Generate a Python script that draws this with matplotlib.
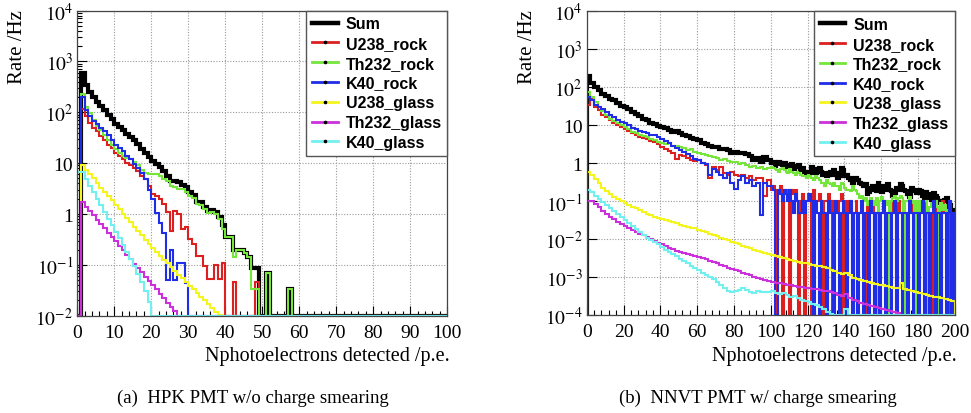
import numpy as np
import matplotlib
matplotlib.use("Agg")
import matplotlib.pyplot as plt
from matplotlib.lines import Line2D
from matplotlib.ticker import FixedLocator, MultipleLocator, LogLocator, NullFormatter

plt.rcParams['font.family'] = ['Liberation Serif', 'DejaVu Serif']
plt.rcParams['mathtext.fontset'] = 'stix'

names = ["Sum", "U238_rock", "Th232_rock", "K40_rock", "U238_glass", "Th232_glass", "K40_glass"]
colors = ["#000000", "#dc2020", "#74e63a", "#1f2de6", "#f4f41e", "#cc30dc", "#72f0f0"]


def pad(vals, n):
    # empty bins after the last filled one
    return list(vals) + [0] * (n - len(vals))


# ---- HPK PMT, 1 p.e. bins from 0 to 100 ----
hpk_edges = np.arange(0, 101, 1)
hpk_sum = pad([0, 600, 345, 255, 200, 160, 135, 110, 90, 74,
               60, 52, 44, 38, 33, 28, 24, 19, 16, 13,
               11, 9.6, 8.4, 7, 5.7, 4.4, 4.5, 4.2, 3.8, 3.4,
               2.7, 2.4, 1.75, 1.7, 1.4, 1.15, 1.2, 1.1, 0.86, 0.62,
               0.36, 0.36, 0.2, 0.2, 0.2, 0.17, 0.14, 0.086, 0.086, 0,
               0, 0.069, 0, 0, 0, 0, 0, 0.033], 100)
hpk_u238_rock = pad([0, 117, 85, 62, 50, 42, 34, 28, 23, 20,
                     16, 14, 12, 10, 9, 8, 7, 5.5, 4.9, 3.6,
                     2.5, 2.3, 2.0, 1.6, 1.1, 0.47, 1.15, 1.0, 0.5, 0.55,
                     0.32, 0.26, 0.15, 0.15, 0.095, 0.052, 0.052, 0.1, 0.052, 0.11,
                     0, 0, 0.047, 0, 0, 0, 0, 0, 0.047], 100)
hpk_th232_rock = pad([0, 230, 130, 95, 70, 55, 45, 36, 29, 23,
                      19, 16, 14, 12.5, 12, 10.5, 9, 7.5, 6.5, 6.2,
                      6.2, 6.0, 5.5, 4.9, 4.4, 3.6, 3.4, 3.1, 3.1, 2.7,
                      2.3, 2.1, 1.55, 1.5, 1.25, 1.07, 1.1, 1.0, 0.8, 0.5,
                      0.35, 0.35, 0.14, 0.2, 0.2, 0.17, 0.14, 0.033, 0.033, 0,
                      0, 0.069, 0, 0, 0, 0, 0, 0.033], 100)
hpk_k40_rock = pad([0, 200, 110, 85, 68, 58, 49, 42, 35, 28,
                    23, 20, 17, 14, 12, 9.5, 8, 6.3, 4.9, 3.0,
                    1.95, 1.07, 0.68, 0.43, 0.05, 0.2, 0.05, 0.11, 0.11, 0.043], 100)
hpk_u238_glass = pad([0, 9.0, 7.4, 6.1, 5.0, 4.1, 3.3, 2.75, 2.25, 1.85,
                      1.5, 1.25, 1.02, 0.84, 0.69, 0.56, 0.46, 0.38, 0.31, 0.255,
                      0.21, 0.178, 0.15, 0.127, 0.107, 0.09, 0.076, 0.064, 0.054, 0.046,
                      0.039, 0.033, 0.028, 0.0235, 0.02, 0.0168, 0.0142, 0.012, 0.0101], 100)
hpk_th232_glass = pad([0, 1.7, 1.4, 1.15, 0.94, 0.77, 0.63, 0.52, 0.42, 0.35,
                       0.29, 0.235, 0.193, 0.158, 0.13, 0.106, 0.087, 0.071, 0.058, 0.048,
                       0.04, 0.033, 0.027, 0.022, 0.018, 0.0148, 0.0122, 0.01], 100)
hpk_k40_glass = pad([6.6, 6.6, 4.9, 3.6, 2.7, 2.0, 1.5, 1.1, 0.8, 0.6,
                     0.45, 0.33, 0.25, 0.18, 0.13, 0.095, 0.065, 0.045, 0.03, 0.019], 100)

# ---- NNVT PMT ----
# smooth glass spectra: 2 p.e. bins over the whole range
nnvt_edges = np.arange(0, 201, 2)
# rock spectra and their sum: 2 p.e. bins below 100, 1 p.e. bins above
nnvt_fine_edges = np.concatenate([np.arange(0, 100, 2), np.arange(100, 201, 1)])

nnvt_sum = [200, 130, 100, 82, 68, 60, 50, 45, 39, 33,
            30, 26, 22, 19.5, 17, 15, 13.5, 11.5, 10.8, 9.8,
            9.0, 8.5, 7.6, 6.8, 7.0, 6.3, 5.6, 5.2, 4.6, 4.4,
            4.0, 3.4, 3.2, 2.9, 2.7, 2.6, 2.4, 2.4, 2.2, 1.9,
            2.0, 1.8, 1.9, 1.7, 1.5, 1.2, 1.35, 1.1, 1.45, 1.2,
            # 1 p.e. bins from 100
            1.0, 1.1, 0.85, 0.95, 1.05, 1.0, 0.9, 1.0, 0.8, 0.85,
            0.9, 0.95, 0.7, 0.8, 0.85, 0.9, 0.65, 0.75, 0.6, 0.5,
            0.6, 0.55, 0.8, 0.7, 0.55, 0.65, 0.75, 0.6, 0.5, 0.55,
            0.45, 0.5, 0.6, 0.5, 0.65, 0.55, 0.4, 0.45, 0.75, 0.65,
            0.45, 0.5, 0.4, 0.35, 0.3, 0.4, 0.4, 0.35, 0.3, 0.28,
            0.25, 0.28, 0.15, 0.17, 0.22, 0.25, 0.2, 0.18, 0.3, 0.25,
            0.17, 0.2, 0.25, 0.28, 0.2, 0.18, 0.14, 0.16, 0.22, 0.2,
            0.28, 0.25, 0.2, 0.18, 0.15, 0.13, 0.22, 0.2, 0.18, 0.16,
            0.2, 0.18, 0.14, 0.12, 0.17, 0.15, 0.12, 0.11, 0.16, 0.14,
            0.12, 0.1, 0.09, 0.1, 0.11, 0.12, 0.07, 0.08, 0.06, 0.05]
nnvt_u238_rock = [35, 50, 30, 25, 19, 16, 14, 11.5, 10, 9,
                  7.8, 7.0, 6.2, 5.6, 5.0, 4.6, 4.2, 3.8, 3.6, 3.1,
                  2.7, 2.4, 2.1, 1.8, 1.3, 1.6, 1.55, 1.4, 1.2, 1.15,
                  1.2, 1.0, 0.9, 0.4, 0.8, 0.65, 0.8, 0.55, 0.5, 0.6,
                  0.5, 0.45, 0.5, 0.4, 0.45, 0.35, 0.4, 0.4, 0.14, 0.35,
                  0.2, 0.25, 0.2, 0, 0.2, 0.25, 0, 0.2, 0.15, 0.2,
                  0, 0.2, 0.15, 0.2, 0.1, 0, 0.1, 0.15, 0, 0.1,
                  0.15, 0.1, 0, 0.2, 0.1, 0.1, 0.15, 0.1, 0, 0.1,
                  0.1, 0.15, 0.1, 0, 0.1, 0.05, 0.05, 0.1, 0.15, 0,
                  0.1, 0.05, 0.1, 0.1, 0, 0.05, 0.1, 0.05, 0.05, 0.1,
                  0.05, 0, 0.1, 0.05, 0.05, 0.1, 0, 0.05, 0.1, 0.05,
                  0.05, 0.1, 0.05, 0, 0.05, 0.1, 0.05, 0.05, 0, 0.1,
                  0.05, 0.05, 0.1, 0, 0.05, 0.05, 0.1, 0.05, 0, 0.05,
                  0.1, 0.05, 0.05, 0, 0.1, 0.05, 0.05, 0.05, 0, 0.1,
                  0.05, 0.05, 0, 0.1, 0.05, 0.05, 0.05, 0, 0.05, 0.05]
nnvt_th232_rock = [75, 55, 40, 30, 23, 19, 15, 13, 11.5, 10,
                   8.8, 7.8, 6.8, 6.2, 5.6, 5.3, 4.8, 4.2, 4.0, 3.7,
                   3.4, 3.1, 3.3, 2.9, 2.8, 2.6, 2.5, 2.2, 2.3, 1.95,
                   1.9, 1.7, 1.6, 1.55, 1.45, 1.4, 1.2, 1.3, 1.15, 1.05,
                   1.1, 0.95, 1.0, 0.9, 0.8, 0.85, 0.75, 0.8, 0.7, 0.75,
                   0.8, 0.75, 0.7, 0.65, 0.6, 0.7, 0.75, 0.65, 0.6, 0.55,
                   0.7, 0.6, 0.55, 0.5, 0.6, 0.55, 0.5, 0.45, 0.45, 0.4,
                   0.5, 0.45, 0.4, 0.35, 0.45, 0.4, 0.35, 0.3, 0.3, 0.25,
                   0.35, 0.3, 0.28, 0.25, 0.3, 0.25, 0.25, 0.2, 0.3, 0.28,
                   0.22, 0.2, 0.2, 0.18, 0.25, 0.2, 0.18, 0.15, 0.12, 0.14,
                   0.1, 0.12, 0.08, 0.1, 0.12, 0.1, 0.08, 0.12, 0, 0.1,
                   0.13, 0.1, 0.08, 0.1, 0, 0.1, 0.12, 0.14, 0.1, 0.12,
                   0.14, 0.12, 0, 0.1, 0.1, 0.13, 0.09, 0.1, 0, 0.1,
                   0, 0.1, 0.08, 0.1, 0.1, 0, 0.07, 0.09, 0.08, 0.1,
                   0.07, 0, 0.09, 0.06, 0.08, 0.05, 0.06, 0.05, 0.05, 0.05]
nnvt_k40_rock = [55, 45, 35, 30, 27, 22, 18, 16, 14, 12.5,
                 11.5, 10, 8.5, 8, 7, 6.6, 6.2, 5.5, 5.4, 4.8,
                 4.2, 3.9, 3.4, 2.8, 2.5, 2.2, 2.0, 1.7, 1.5, 1.3,
                 1.2, 1.0, 0.95, 0.5, 0.7, 0.58, 0.5, 0.4, 0.55, 0.3,
                 0.21, 0.35, 0.45, 0.3, 0.35, 0.25, 0.3, 0.042, 0.3, 0.25,
                 0.25, 0.2, 0, 0, 0.2, 0.15, 0.1, 0.2, 0.15, 0.1,
                 0.2, 0.1, 0.05, 0.15, 0.1, 0.05, 0.05, 0.1, 0.05, 0.1,
                 0.1, 0.15, 0.1, 0, 0.1, 0.05, 0, 0.1, 0.05, 0.05,
                 0, 0.1, 0.05, 0.05, 0, 0.1, 0.05, 0, 0.05, 0.1,
                 0.05, 0, 0.05, 0.1, 0, 0.05, 0.05, 0, 0.05, 0.1,
                 0, 0.05, 0.05, 0, 0.1, 0.05, 0, 0.05, 0.05, 0,
                 0.05, 0.1, 0, 0.05, 0.05, 0, 0.05, 0.1, 0, 0.05,
                 0.05, 0, 0.05, 0.05, 0, 0.1, 0.05, 0, 0.05, 0.05,
                 0, 0.05, 0.1, 0, 0.05, 0.05, 0, 0.05, 0.1, 0,
                 0.05, 0.05, 0, 0.05, 0.05, 0, 0.05, 0.1, 0, 0.05]
nnvt_u238_glass = [0.6, 0.5, 0.38, 0.3, 0.22, 0.18, 0.15, 0.13, 0.115, 0.1,
                   0.09, 0.08, 0.072, 0.065, 0.058, 0.052, 0.047, 0.043, 0.039, 0.036,
                   0.034, 0.032, 0.03, 0.028, 0.026, 0.024, 0.022, 0.021, 0.02, 0.019,
                   0.017, 0.016, 0.015, 0.014, 0.013, 0.012, 0.011, 0.0102, 0.0094, 0.0086,
                   0.0078, 0.0072, 0.0066, 0.0061, 0.0057, 0.0053, 0.005, 0.0047, 0.0044, 0.0041,
                   0.0038, 0.0036, 0.0034, 0.0032, 0.003, 0.0028, 0.0026, 0.0025, 0.0024, 0.0023,
                   0.0022, 0.0021, 0.002, 0.0019, 0.0018, 0.0017, 0.0015, 0.0014, 0.0013, 0.0012,
                   0.0013, 0.0011, 0.00095, 0.0009, 0.00085, 0.0008, 0.00075, 0.0007, 0.00066, 0.00062,
                   0.0006, 0.00057, 0.00055, 0.00052, 0.0005, 0.0007, 0.00047, 0.00045, 0.00042, 0.0004,
                   0.00038, 0.00036, 0.00034, 0.00032, 0.0003, 0.00029, 0.00028, 0.00027, 0.00025, 0.00024]
nnvt_th232_glass = [0.1, 0.1, 0.085, 0.068, 0.055, 0.046, 0.039, 0.033, 0.029, 0.025,
                    0.022, 0.019, 0.017, 0.015, 0.0135, 0.0125, 0.0112, 0.01, 0.009, 0.0081,
                    0.0073, 0.0066, 0.006, 0.0055, 0.005, 0.0047, 0.0044, 0.0041, 0.0038, 0.0036,
                    0.0033, 0.0031, 0.0029, 0.0027, 0.0025, 0.0023, 0.0021, 0.0019, 0.0017, 0.0016,
                    0.0015, 0.0014, 0.0013, 0.0012, 0.0011, 0.001, 0.00095, 0.0009, 0.00085, 0.0008,
                    0.00075, 0.00071, 0.00068, 0.00065, 0.00062, 0.0006, 0.00058, 0.00056, 0.00054, 0.00052,
                    0.0005, 0.00049, 0.00047, 0.00046, 0.00044, 0.00042, 0.0004, 0.00037, 0.00034, 0.00031,
                    0.00036, 0.00028, 0.00025, 0.00023, 0.00021, 0.00019, 0.00018, 0.00017, 0.00016, 0.00015,
                    0.00014, 0.000135, 0.00013, 0.00012, 0.00011, 0.0001, 0.000095, 0.00009, 0.000085, 0.00008,
                    0.000078, 0.000075, 0.000072, 0.00007, 0.000068, 0.000065, 0.000062, 0.00006, 0.000058, 0.000055]
nnvt_k40_glass = pad([0.2, 0.17, 0.14, 0.115, 0.095, 0.08, 0.066, 0.055, 0.046, 0.038,
                      0.031, 0.026, 0.022, 0.018, 0.015, 0.0128, 0.011, 0.0093, 0.0082, 0.0072,
                      0.0062, 0.0053, 0.0046, 0.004, 0.0035, 0.003, 0.0026, 0.0023, 0.002, 0.0017,
                      0.0015, 0.0013, 0.00115, 0.001, 0.00087, 0.00075, 0.00063, 0.00052, 0.00043, 0.0004,
                      0.00042, 0.00045, 0.0005, 0.00045, 0.0004, 0.00038, 0.00042, 0.0004, 0.00041, 0.0004,
                      0.00043, 0.00039, 0.00036, 0.00038, 0.00033, 0.0003, 0.00031, 0.00028, 0.00025, 0.00024,
                      0.00022, 0.0002, 0.00018, 0.00016, 0.00014, 0.00012, 0.000105, 0, 0, 0,
                      0.00014], 100)

hpk_series = [(hpk_edges, hpk_sum), (hpk_edges, hpk_u238_rock), (hpk_edges, hpk_th232_rock),
              (hpk_edges, hpk_k40_rock), (hpk_edges, hpk_u238_glass),
              (hpk_edges, hpk_th232_glass), (hpk_edges, hpk_k40_glass)]
nnvt_series = [(nnvt_fine_edges, nnvt_sum), (nnvt_fine_edges, nnvt_u238_rock),
               (nnvt_fine_edges, nnvt_th232_rock), (nnvt_fine_edges, nnvt_k40_rock),
               (nnvt_edges, nnvt_u238_glass), (nnvt_edges, nnvt_th232_glass),
               (nnvt_edges, nnvt_k40_glass)]

ylabels = {-4: r'$10^{-4}$', -3: r'$10^{-3}$', -2: r'$10^{-2}$', -1: r'$10^{-1}$',
           0: '1', 1: '10', 2: r'$10^{2}$', 3: r'$10^{3}$', 4: r'$10^{4}$'}


def draw_panel(ax, series, ymin, xmax, xmajor, xminor):
    for (edges, vals), c, name in zip(series, colors, names):
        v = np.maximum(np.asarray(vals, dtype=float), ymin)
        lw = 3.0 if name == "Sum" else 1.5
        ax.stairs(v, edges, baseline=ymin, color=c, lw=lw, joinstyle='miter')

    ax.set_yscale('log')
    ax.set_xlim(0, xmax)
    ax.set_ylim(ymin, 1e4)
    exps = list(range(int(round(np.log10(ymin))), 5))
    ax.yaxis.set_major_locator(FixedLocator([10.0 ** e for e in exps]))
    ax.set_yticklabels([ylabels[e] for e in exps])
    ax.yaxis.set_minor_locator(LogLocator(base=10, subs=np.arange(2, 10)))
    ax.yaxis.set_minor_formatter(NullFormatter())
    ax.xaxis.set_major_locator(MultipleLocator(xmajor))
    ax.xaxis.set_minor_locator(MultipleLocator(xminor))

    ax.tick_params(which='both', direction='in', top=False, right=False, labelsize=14)
    ax.tick_params(which='major', length=7, width=0.8)
    ax.tick_params(which='minor', length=3.5, width=0.8)
    ax.tick_params(axis='x', pad=6)
    ax.tick_params(axis='y', pad=3)
    ax.grid(True, which='major', ls=(0, (1, 1.5)), color='#9a9a9a', lw=0.8)
    ax.set_axisbelow(True)
    for sp in ax.spines.values():
        sp.set_linewidth(0.9)
        sp.set_color('#444444')

    handles = []
    for c, name in zip(colors, names):
        if name == "Sum":
            handles.append(Line2D([0], [0], color=c, lw=3.2))
        else:
            handles.append(Line2D([0], [0], color=c, lw=2.0, marker='o', ms=1.6,
                                  mfc='k', mec='k'))
    leg = ax.legend(handles, names, loc='upper right', bbox_to_anchor=(1, 1),
                    borderaxespad=0, fancybox=False, framealpha=1, edgecolor='#555555',
                    prop={'family': 'Liberation Sans', 'weight': 'bold', 'size': 11.5},
                    handlelength=1.6, handletextpad=0.5, labelspacing=0.3,
                    borderpad=0.35, numpoints=1)
    leg.get_frame().set_linewidth(1.0)


fig = plt.figure(figsize=(9.71, 4.14), dpi=100)
ax1 = fig.add_axes([0.0796, 0.235, 0.381, 0.737])
ax2 = fig.add_axes([0.6042, 0.2367, 0.3793, 0.7336])

draw_panel(ax1, hpk_series, 1e-2, 100, 10, 2)
draw_panel(ax2, nnvt_series, 1e-4, 200, 20, 4)

# axis titles, ROOT-style: right aligned on x, top aligned on y
fig.text(17 / 971, 1 - 10 / 414, 'Rate /Hz', rotation=90, ha='center', va='top', fontsize=15)
fig.text(527 / 971, 1 - 10 / 414, 'Rate /Hz', rotation=90, ha='center', va='top', fontsize=15)
fig.text(450 / 971, 1 - 356 / 414, 'Nphotoelectrons detected /p.e.', ha='right', va='center', fontsize=14.5)
fig.text(957 / 971, 1 - 356 / 414, 'Nphotoelectrons detected /p.e.', ha='right', va='center', fontsize=14.5)

fig.text(253 / 971, 1 - 398 / 414, '(a)  HPK PMT w/o charge smearing', ha='center', va='center', fontsize=13.5)
fig.text(758 / 971, 1 - 398 / 414, '(b)  NNVT PMT w/ charge smearing', ha='center', va='center', fontsize=13.5)

fig.savefig('out.png', dpi=100)
